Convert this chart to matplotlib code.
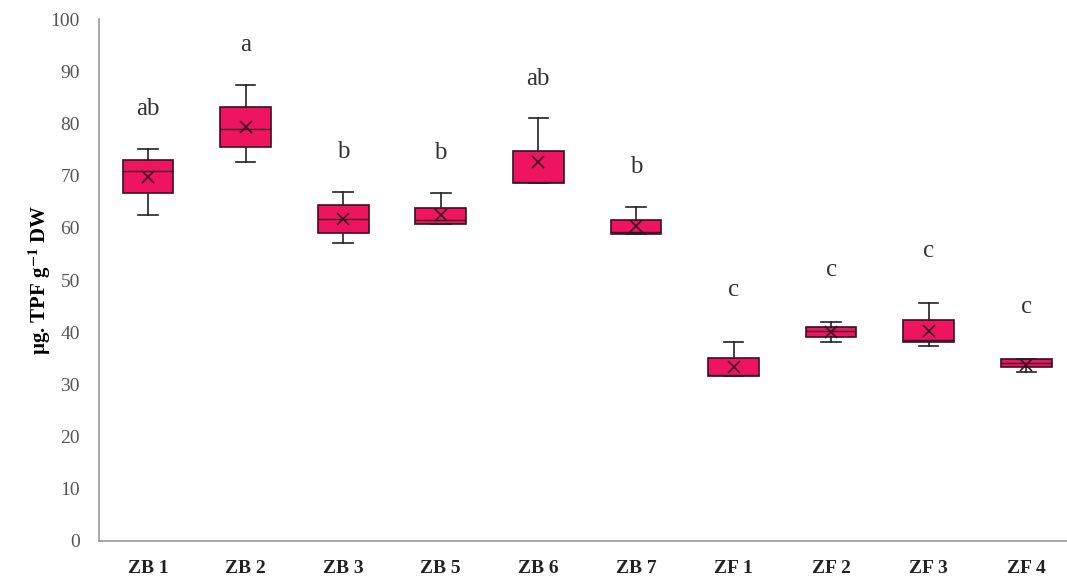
import matplotlib.pyplot as plt

# enzyme activity per sample (five-number summary + mean)
samples = ["ZB 1", "ZB 2", "ZB 3", "ZB 5", "ZB 6", "ZB 7", "ZF 1", "ZF 2", "ZF 3", "ZF 4"]
whisker_low = [62.5, 72.6, 57.1, 60.7, 68.6, 58.8, 31.6, 38.1, 37.4, 32.4]
q1 = [66.7, 75.5, 59.0, 60.7, 68.6, 58.8, 31.6, 39.1, 38.1, 33.3]
median = [70.9, 78.9, 61.7, 61.5, 68.8, 59.3, 31.8, 40.2, 38.5, 34.0]
q3 = [73.0, 83.1, 64.4, 63.8, 74.7, 61.5, 35.1, 41.0, 42.3, 34.9]
whisker_high = [75.1, 87.4, 66.9, 66.7, 81.0, 64.0, 38.1, 42.0, 45.6, 34.9]
mean = [69.7, 79.3, 61.7, 62.5, 72.6, 60.3, 33.4, 40.0, 40.2, 33.8]
letters = ["ab", "a", "b", "b", "ab", "b", "c", "c", "c", "c"]

stats = []
for i, name in enumerate(samples):
    stats.append({
        "label": name, "whislo": whisker_low[i], "q1": q1[i], "med": median[i],
        "q3": q3[i], "whishi": whisker_high[i], "mean": mean[i], "fliers": [],
    })

plt.rcParams["font.family"] = "Liberation Serif"
plt.rcParams["mathtext.fontset"] = "stix"

fig = plt.figure(figsize=(10.67, 5.84), dpi=100)
ax = fig.add_axes([0.093, 0.074, 0.91, 0.893])

pos = list(range(len(samples)))
ax.bxp(stats, positions=pos, widths=0.52, showmeans=True, patch_artist=True,
       boxprops=dict(facecolor="#ee1460", edgecolor="#3a1020", linewidth=1.2),
       medianprops=dict(color="#3a1020", linewidth=1.0),
       whiskerprops=dict(color="#222222", linewidth=1.2),
       capprops=dict(color="#222222", linewidth=1.2),
       meanprops=dict(marker="x", markeredgecolor="#3a1020", markersize=9, markeredgewidth=1.2),
       capwidths=0.2)

# significance letters sit a little higher over the ZF group
for x, name, top, lab in zip(pos, samples, whisker_high, letters):
    gap = 10.0 if name.startswith("ZF") else 7.6
    ax.text(x, top + gap, lab, ha="center", va="center", fontsize=18, color="#333333")

ax.set_xlim(-0.5, 9.45)
ax.set_ylim(0, 100)
ax.set_yticks(range(0, 101, 10))
ax.set_xticks(pos)
ax.set_xticklabels(samples, fontsize=14, fontweight="bold", color="#222222")
ax.tick_params(axis="y", length=0, pad=14, labelsize=14, labelcolor="#555555")
ax.tick_params(axis="x", length=0, pad=14)
ax.set_ylabel(r"µg. TPF g$^{\mathbf{-1}}$ DW", fontsize=15, fontweight="bold", labelpad=-2)

for side in ["top", "right"]:
    ax.spines[side].set_visible(False)
for side in ["left", "bottom"]:
    ax.spines[side].set_color("#999999")
    ax.spines[side].set_linewidth(1.2)

fig.savefig("out.png", dpi=100)
